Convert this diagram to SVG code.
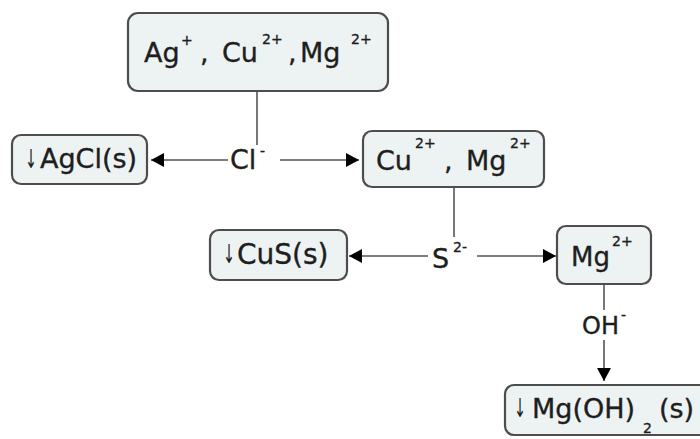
<svg xmlns="http://www.w3.org/2000/svg" width="700" height="439" viewBox="0 0 700 439">
<style>
.box{fill:#edf3f2;stroke:#4d4d4d;stroke-width:2.2}
.t{font-family:"DejaVu Sans",Verdana,sans-serif;fill:#1e1e1e;stroke:#1e1e1e;stroke-width:0.35}
.dn{font-family:"DejaVu Sans",Verdana,sans-serif;fill:#1e1e1e;font-size:26px;text-anchor:middle}
.sup{font-size:14px}
.ln{stroke:#555;stroke-width:1.6;fill:none}
</style>
<defs>
<marker id="ah" markerUnits="userSpaceOnUse" markerWidth="14" markerHeight="14" refX="13" refY="7" orient="auto">
<path d="M0,0 L13,7 L0,14 Z" fill="#000"/>
</marker>
</defs>
<rect width="700" height="439" fill="#fff"/>
<g id="connectors">
<line class="ln" x1="257" y1="91" x2="257" y2="145"/>
<line class="ln" x1="228" y1="160" x2="151" y2="160" marker-end="url(#ah)"/>
<line class="ln" x1="280" y1="160" x2="359" y2="160" marker-end="url(#ah)"/>
<line class="ln" x1="454" y1="187" x2="454" y2="237"/>
<line class="ln" x1="428" y1="256" x2="349" y2="256" marker-end="url(#ah)"/>
<line class="ln" x1="477" y1="256" x2="556" y2="256" marker-end="url(#ah)"/>
<line class="ln" x1="604" y1="284" x2="604" y2="310"/>
<line class="ln" x1="604" y1="340" x2="604" y2="381" marker-end="url(#ah)"/>
</g>
<g id="n1">
<rect class="box" x="128" y="13" width="260" height="78" rx="10"/>
<text class="t" font-size="27"><tspan x="144" y="62">Ag</tspan><tspan class="sup" x="181" y="45">+</tspan><tspan x="200" y="62">,</tspan><tspan x="222" y="62">Cu</tspan><tspan class="sup" x="262" y="44">2+</tspan><tspan x="288" y="62">,</tspan><tspan x="300" y="62">Mg</tspan><tspan class="sup" x="351" y="44">2+</tspan></text>
</g>
<g id="n2">
<rect class="box" x="12" y="135" width="135" height="49" rx="9"/>
<text class="dn" transform="translate(31,168) scale(0.55,1)">↓</text>
<text class="t" font-size="27" x="40" y="168">AgCl(s)</text>
</g>
<g id="lbl-cl">
<text class="t" font-size="27"><tspan x="230" y="169">Cl</tspan><tspan class="sup" font-size="12" x="260" y="156">-</tspan></text>
</g>
<g id="n3">
<rect class="box" x="363" y="131" width="181" height="56" rx="9"/>
<text class="t" font-size="27"><tspan x="376" y="170">Cu</tspan><tspan class="sup" x="415" y="148">2+</tspan><tspan x="444" y="170">,</tspan><tspan x="466" y="170">Mg</tspan><tspan class="sup" x="510" y="148">2+</tspan></text>
</g>
<g id="n4">
<rect class="box" x="210" y="230" width="137" height="50" rx="9"/>
<text class="dn" transform="translate(229,263) scale(0.55,1)">↓</text>
<text class="t" font-size="28" x="237" y="264">CuS(s)</text>
</g>
<g id="lbl-s">
<text class="t" font-size="27"><tspan x="432" y="268">S</tspan><tspan class="sup" x="453" y="252">2-</tspan></text>
</g>
<g id="n5">
<rect class="box" x="557" y="226" width="94" height="58" rx="9"/>
<text class="t" font-size="26"><tspan x="571" y="266">Mg</tspan><tspan class="sup" x="612" y="246">2+</tspan></text>
</g>
<g id="lbl-oh">
<text class="t" font-size="24"><tspan x="582" y="334">OH</tspan><tspan class="sup" font-size="12" x="621" y="320">-</tspan></text>
</g>
<g id="n6">
<rect class="box" x="505" y="385" width="210" height="50" rx="9"/>
<text class="dn" transform="translate(520,417) scale(0.55,1)">↓</text>
<text class="t" font-size="27"><tspan x="532" y="418">Mg(OH)</tspan><tspan class="sup" font-size="15" x="643" y="433">2</tspan><tspan x="659" y="418">(s)</tspan></text>
</g>
</svg>
